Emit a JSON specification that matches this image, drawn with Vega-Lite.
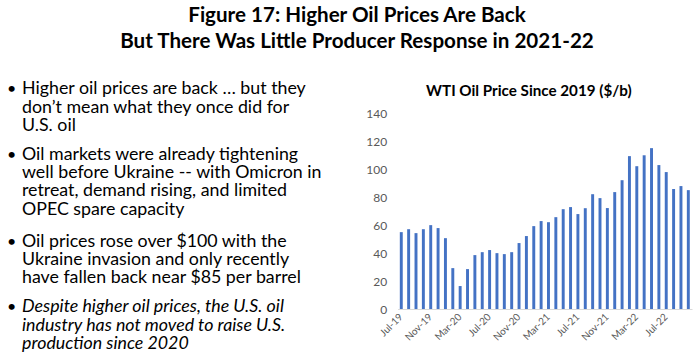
{
  "$schema": "https://vega.github.io/schema/vega-lite/v6.json",
  "padding": {"left": 0, "top": 5, "right": 7, "bottom": 0},
  "bounds": "flush",
  "spacing": 19.6,
  "title": {
    "text": ["Figure 17: Higher Oil Prices Are Back", "But There Was Little Producer Response in 2021-22"],
    "font": "Lato", "fontSize": 20.6, "fontWeight": "bold", "color": "#000000",
    "lineHeight": 26, "anchor": "middle", "offset": 28, "dx": 11
  },
  "config": {"view": {"stroke": null}, "font": "Lato"},
  "hconcat": [
    {
      "width": 378,
      "height": 196,
      "data": {"values": [
        {"bullet": 1, "first_line": 1, "lines": ["Higher oil prices are back … but they", "don’t mean what they once did for", "U.S. oil"]},
        {"bullet": 2, "first_line": 4, "lines": ["Oil markets were already tightening", "well before Ukraine -- with Omicron in", "retreat, demand rising, and limited", "OPEC spare capacity"]},
        {"bullet": 3, "first_line": 8, "lines": ["Oil prices rose over $100 with the", "Ukraine invasion and only recently", "have fallen back near $85 per barrel"]},
        {"bullet": 4, "first_line": 11, "lines": ["Despite higher oil prices, the U.S. oil", "industry has not moved to raise U.S.", "production since 2020"]}
      ]},
      "layer": [
        {
          "mark": {"type": "text", "align": "left", "baseline": "alphabetic", "font": "Lato", "fontSize": 16, "color": "#000000"},
          "encoding": {
            "x": {"value": 7},
            "y": {"field": "first_line", "type": "quantitative", "scale": {"domain": [1.86, 10.85], "reverse": true, "nice": false, "zero": false}, "axis": null},
            "text": {"value": "•"}
          }
        },
        {
          "transform": [{"filter": "datum.bullet < 4"}],
          "mark": {"type": "text", "align": "left", "baseline": "alphabetic", "font": "Lato", "fontSize": 17.8, "lineHeight": 18.3, "color": "#000000"},
          "encoding": {
            "x": {"value": 22},
            "y": {"field": "first_line", "type": "quantitative"},
            "text": {"field": "lines", "type": "nominal"}
          }
        },
        {
          "transform": [{"filter": "datum.bullet == 4"}],
          "mark": {"type": "text", "align": "left", "baseline": "alphabetic", "font": "Lato", "fontSize": 17.8, "fontStyle": "italic", "lineHeight": 18.3, "color": "#000000"},
          "encoding": {
            "x": {"value": 22},
            "y": {"field": "first_line", "type": "quantitative"},
            "text": {"field": "lines", "type": "nominal"}
          }
        }
      ]
    },
    {
      "width": 294.4,
      "height": 196,
      "title": {"text": "WTI Oil Price Since 2019 ($/b)", "font": "Lato", "fontSize": 15.2, "fontWeight": "bold", "color": "#000000", "anchor": "middle", "frame": "bounds", "offset": 8},
      "data": {"values": [
        {"month": "Jul-19", "price": 54.9}, {"month": "Aug-19", "price": 57.0}, {"month": "Sep-19", "price": 54.2}, {"month": "Oct-19", "price": 57.0},
        {"month": "Nov-19", "price": 59.9}, {"month": "Dec-19", "price": 57.8}, {"month": "Jan-20", "price": 50.6}, {"month": "Feb-20", "price": 29.2},
        {"month": "Mar-20", "price": 16.4}, {"month": "Apr-20", "price": 28.5}, {"month": "May-20", "price": 38.5}, {"month": "Jun-20", "price": 40.6},
        {"month": "Jul-20", "price": 42.1}, {"month": "Aug-20", "price": 39.9}, {"month": "Sep-20", "price": 39.2}, {"month": "Oct-20", "price": 40.6},
        {"month": "Nov-20", "price": 47.1}, {"month": "Dec-20", "price": 52.1}, {"month": "Jan-21", "price": 59.2}, {"month": "Feb-21", "price": 62.8},
        {"month": "Mar-21", "price": 62.0}, {"month": "Apr-21", "price": 65.6}, {"month": "May-21", "price": 71.3}, {"month": "Jun-21", "price": 72.8},
        {"month": "Jul-21", "price": 67.8}, {"month": "Aug-21", "price": 72.0}, {"month": "Sep-21", "price": 82.0}, {"month": "Oct-21", "price": 79.2},
        {"month": "Nov-21", "price": 72.1}, {"month": "Dec-21", "price": 83.5}, {"month": "Jan-22", "price": 92.0}, {"month": "Feb-22", "price": 109.2},
        {"month": "Mar-22", "price": 102.0}, {"month": "Apr-22", "price": 109.8}, {"month": "May-22", "price": 114.9}, {"month": "Jun-22", "price": 102.8},
        {"month": "Jul-22", "price": 97.8}, {"month": "Aug-22", "price": 85.7}, {"month": "Sep-22", "price": 87.8}, {"month": "Oct-22", "price": 84.9}
      ]},
      "mark": {"type": "bar", "color": "#4472C4"},
      "encoding": {
        "x": {
          "field": "month", "type": "ordinal", "sort": null,
          "scale": {"paddingInner": 0.6, "paddingOuter": 0.3},
          "axis": {
            "title": null,
            "values": ["Jul-19", "Nov-19", "Mar-20", "Jul-20", "Nov-20", "Mar-21", "Jul-21", "Nov-21", "Mar-22", "Jul-22"],
            "labelAngle": -45, "labelAlign": "right", "labelBaseline": "middle",
            "labelFont": "Lato", "labelFontSize": 10, "labelColor": "#595959",
            "ticks": false, "domainColor": "#d9d9d9", "labelPadding": 6
          }
        },
        "y": {
          "field": "price", "type": "quantitative",
          "scale": {"domain": [0, 140], "nice": false},
          "axis": {
            "title": null, "values": [0, 20, 40, 60, 80, 100, 120, 140],
            "grid": false, "domain": false, "ticks": false, "labelPadding": 11,
            "labelFont": "Lato", "labelFontSize": 12, "labelColor": "#595959"
          }
        }
      }
    }
  ]
}
